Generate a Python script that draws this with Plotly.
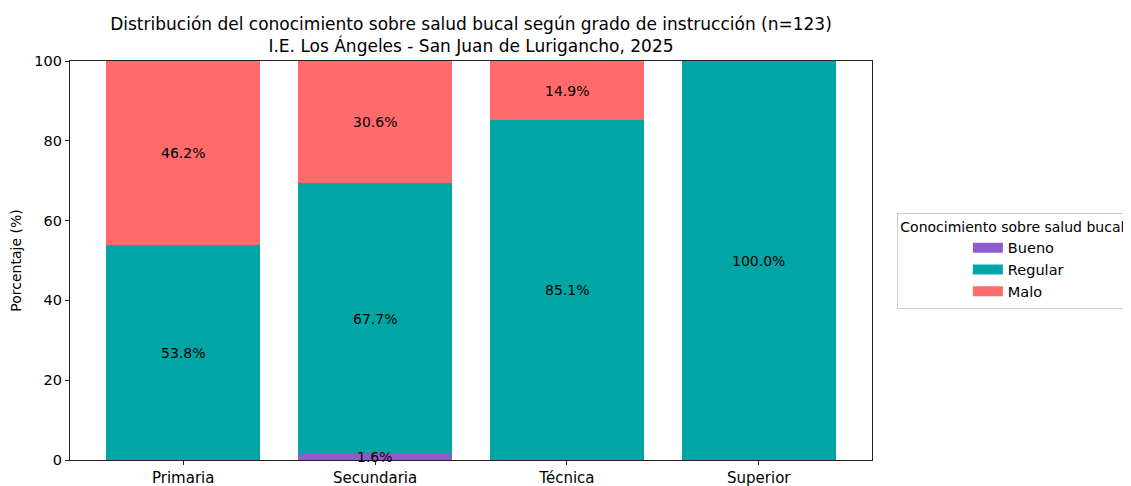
import plotly.graph_objects as go

grados = ["Primaria", "Secundaria", "Técnica", "Superior"]
bueno = [0.0, 1.6, 0.0, 0.0]
regular = [53.8, 67.7, 85.1, 100.0]
malo = [46.2, 30.6, 14.9, 0.0]

series = [("Bueno", bueno, "#8C5CCF"),
          ("Regular", regular, "#00A6A6"),
          ("Malo", malo, "#FF6B6B")]

W, H = 1123, 478  # la página tiene 8px de margen en el body

fig = go.Figure()
for nombre, vals, color in series:
    fig.add_trace(go.Bar(
        x=grados, y=vals, name=nombre,
        marker=dict(color=color, line=dict(width=0)),
        width=0.8, showlegend=False,
    ))
    # entrada de leyenda como rectángulo ancho (estilo matplotlib)
    fig.add_trace(go.Scatter(
        x=[None], y=[None], mode="lines", name=nombre,
        line=dict(color=color, width=10),
    ))

# etiquetas centradas en cada segmento
base = [0.0] * len(grados)
for nombre, vals, color in series:
    for i, v in enumerate(vals):
        if v > 0:
            fig.add_annotation(
                x=grados[i], y=base[i] + v / 2,
                text=f"{v:.1f}%", showarrow=False,
                font=dict(size=14, color="black"),
            )
        base[i] += v

fig.update_layout(
    barmode="stack",
    width=W, height=H,
    font=dict(family="DejaVu Sans", color="black"),
    title=dict(
        text="Distribución del conocimiento sobre salud bucal según grado de instrucción (n=123)<br>I.E. Los Ángeles - San Juan de Lurigancho, 2025",
        x=463 / W, xanchor="center",
        y=1 - 22 / H, yanchor="top",
        font=dict(size=17),
    ),
    plot_bgcolor="white",
    paper_bgcolor="white",
    margin=dict(l=62, r=259, t=53, b=26, autoexpand=False),
    xaxis=dict(
        range=[-0.59, 3.59], showgrid=False, zeroline=False,
        showline=True, linecolor="#222222", linewidth=1.2, mirror=True,
        ticks="outside", ticklen=4, tickcolor="#222222",
        tickfont=dict(size=15),
    ),
    yaxis=dict(
        range=[0, 100], showgrid=False, zeroline=False,
        showline=True, linecolor="#222222", linewidth=1.2, mirror=True,
        ticks="outside", ticklen=4, tickcolor="#222222",
        tickvals=[0, 20, 40, 60, 80, 100],
        tickfont=dict(size=14.5),
        title=dict(text="Porcentaje (%)", font=dict(size=14), standoff=10),
    ),
    legend=dict(
        title=dict(text="Conocimiento sobre salud bucal", side="top center", font=dict(size=14)),
        x=1.031, xanchor="left", y=0.5, yanchor="middle",
        bordercolor="#CCCCCC", borderwidth=1,
        font=dict(size=14.5),
        indentation=70,
        traceorder="normal",
    ),
)

fig.write_html("out.html")
